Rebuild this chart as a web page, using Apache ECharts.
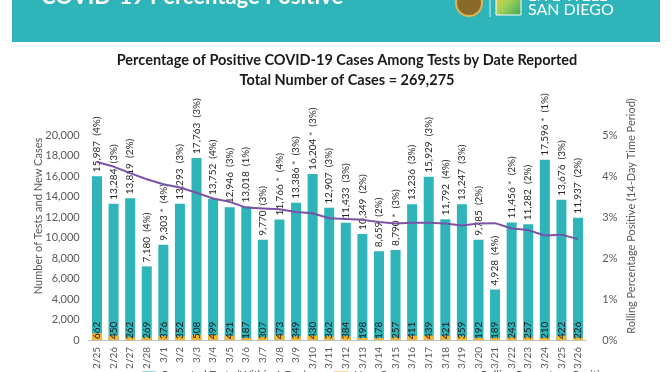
<!DOCTYPE html>
<html><head><meta charset="utf-8">
<script src="https://cdn.jsdelivr.net/npm/echarts@6/dist/echarts.min.js"></script>
<style>html,body{margin:0;padding:0;background:#fff}#c{width:672px;height:372px}</style>
</head><body><div id="c"></div>
<script>
const categories = ['2/25','2/26','2/27','2/28','3/1','3/2','3/3','3/4','3/5','3/6','3/7','3/8','3/9','3/10','3/11','3/12','3/13','3/14','3/15','3/16','3/17','3/18','3/19','3/20','3/21','3/22','3/23','3/24','3/25','3/26'];
const tests = [15987,13284,13819,7180,9303,13293,17763,13752,12946,13018,9770,11766,13386,16204,12907,11433,10349,8659,8790,13236,15929,11792,13247,9785,4928,11456,11282,17596,13676,11937];
const testPct = [4,3,2,4,4,3,3,4,3,1,3,4,3,3,3,3,2,2,3,3,3,4,3,2,4,2,2,1,3,2];
const starred = [0,0,0,0,1,0,0,0,0,0,0,1,1,1,0,0,0,0,1,0,0,0,0,0,0,1,0,1,0,0];
const newCases = [662,450,262,269,376,352,508,499,421,187,307,473,349,430,362,384,198,178,257,411,439,421,359,192,189,243,257,210,422,226];
const rollingPct = [4.34,4.23,4.07,3.92,3.80,3.72,3.59,3.45,3.37,3.23,3.21,3.19,3.12,3.09,2.97,2.95,2.93,2.88,2.84,2.86,2.86,2.84,2.79,2.84,2.85,2.72,2.68,2.55,2.57,2.46];
const leftTicks = {min:0, max:20000, interval:2000};
const rightTicks = {min:0, max:5, interval:1};
const seriesNames = ['Reported Tests (Within 1 Day)','New Cases','Rolling Percentage Positive'];

const FONT = 'Lato';
const TEAL = '#2EB4B9';
const chart = echarts.init(document.getElementById('c'), null, {renderer:'canvas'});

function testLabel(p){
  const i = p.dataIndex;
  return tests[i].toLocaleString('en-US') + (starred[i] ? ' *' : '') + '  (' + testPct[i] + '%)';
}

const legendCommon = {top: 365, itemWidth: 16, itemHeight: 8, textStyle:{fontFamily:FONT,fontSize:11,color:'#595959'}};

chart.setOption({
  animation:false,
  textStyle:{fontFamily:FONT},
  title:[
    {text:'Percentage of Positive COVID-19 Cases Among Tests by Date Reported', left:342, top:48, textAlign:'center',
     textStyle:{fontFamily:FONT,fontSize:14.5,fontWeight:'bold',color:'#1a1a1a'}},
    {text:'Total Number of Cases = 269,275', left:342, top:68, textAlign:'center',
     textStyle:{fontFamily:FONT,fontSize:14.5,fontWeight:'bold',color:'#1a1a1a'}}
  ],
  legend:[
    Object.assign({left:136, data:[seriesNames[0]]}, legendCommon),
    Object.assign({left:328, data:[seriesNames[1]]}, legendCommon),
    Object.assign({left:454, data:[seriesNames[2]], itemWidth:18}, legendCommon)
  ],
  grid:{left:88.7, right:85.7, top:135, bottom:32, containLabel:false},
  xAxis:{type:'category', data:categories,
    axisLine:{lineStyle:{color:'#BFBFBF'}}, axisTick:{show:false},
    axisLabel:{rotate:90, fontSize:10, color:'#595959', margin:7, fontFamily:FONT}},
  yAxis:[
    {type:'value', min:leftTicks.min, max:leftTicks.max, interval:leftTicks.interval,
     axisLine:{show:false}, axisTick:{show:false}, splitLine:{show:false},
     axisLabel:{fontSize:11, color:'#595959', margin:9, fontFamily:FONT,
       formatter:v=>v.toLocaleString('en-US')}},
    {type:'value', min:rightTicks.min, max:rightTicks.max, interval:rightTicks.interval,
     axisLine:{show:false}, axisTick:{show:false}, splitLine:{show:false},
     axisLabel:{fontSize:11, color:'#595959', margin:16, fontFamily:FONT, formatter:v=>v+'%'}}
  ],
  series:[
    {name:seriesNames[0], type:'bar', data:tests, barWidth:10, barGap:'-100%',
     itemStyle:{color:TEAL},
     label:{show:true, position:'top', rotate:90, align:'left', verticalAlign:'middle', distance:4,
       fontSize:10, color:'#262626', fontFamily:FONT, formatter:testLabel}},
    {name:seriesNames[1], type:'bar', data:newCases, barWidth:10, barGap:'-100%',
     itemStyle:{color:'#F2B431'},
     label:{show:true, position:'insideBottom', rotate:90, align:'left', verticalAlign:'middle', distance:1,
       fontSize:10, color:'#1a1a1a', fontFamily:FONT}},
    {name:seriesNames[2], type:'line', yAxisIndex:1, data:rollingPct, symbol:'none',
     lineStyle:{color:'#7A52A6', width:2}, itemStyle:{color:'#7A52A6'}}
  ],
  graphic:[
    {type:'rect', shape:{x:12,y:0,width:648,height:42}, style:{fill:TEAL}, silent:true},
    {type:'text', x:41, y:8, style:{text:'COVID-19 Percentage Positive', fill:'#fff', font:'bold 22px '+FONT, verticalAlign:'bottom', align:'left'}},
    {type:'circle', shape:{cx:469, cy:3, r:13}, style:{fill:'#8a6a2a', stroke:'#e3b44d', lineWidth:2}},
    {type:'line', shape:{x1:490,y1:0,x2:490,y2:17}, style:{stroke:'#cfeeee', lineWidth:1}},
    {type:'rect', shape:{x:496,y:-8,width:25,height:23}, style:{fill:new echarts.graphic.LinearGradient(0,0,1,1,[{offset:0,color:'#f7d23a'},{offset:0.5,color:'#9bcf5a'},{offset:1,color:'#3aa55a'}]), stroke:'#ffffff', lineWidth:1}},
    {type:'text', x:528, y:-4, style:{text:'LIVE WELL', fill:'#fff', font:'16px '+FONT, verticalAlign:'middle'}},
    {type:'text', x:528, y:10, style:{text:'SAN DIEGO', fill:'#fff', font:'16px '+FONT, verticalAlign:'middle'}},
    {type:'text', x:38, y:216, rotation:Math.PI/2, style:{text:'Number of Tests and New Cases', fill:'#595959', font:'11px '+FONT, align:'center', verticalAlign:'middle'}},
    {type:'text', x:631, y:216, rotation:Math.PI/2, style:{text:'Rolling Percentage Positive (14-Day Time Period)', fill:'#595959', font:'11px '+FONT, align:'center', verticalAlign:'middle'}}
  ]
});
</script></body></html>
